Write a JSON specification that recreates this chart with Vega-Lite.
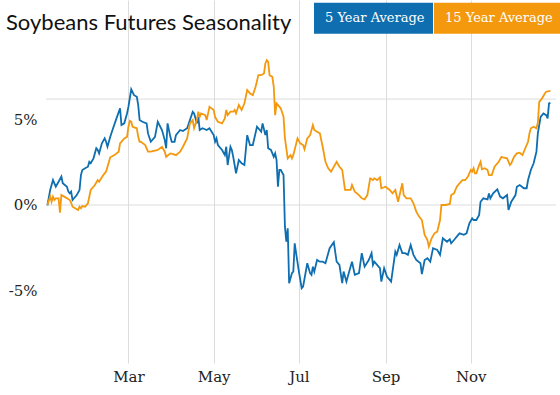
{
"$schema":"https://vega.github.io/schema/vega-lite/v6.json",
"width":510,"height":363,
"autosize":{"type":"none"},
"padding":{"left":46,"top":0,"right":4,"bottom":32},
"background":"white",
"title":{"text":"Soybeans Futures Seasonality","anchor":"start","frame":"group","font":"Lato","fontSize":22,"fontWeight":"normal","color":"#111","baseline":"alphabetic","offset":-97,"dx":-40},
"config":{"view":{"stroke":null},"axis":{"domain":false,"ticks":false,"labelFont":"DejaVu Serif","labelFontSize":15,"labelColor":"#222","gridColor":"#dcdcdc","gridWidth":1}},
"datasets":{
"series":[
{"date":"2023-01-02","s":"5 Year Average","pct":-0.02},{"date":"2023-01-04","s":"5 Year Average","pct":0.88},{"date":"2023-01-06","s":"5 Year Average","pct":1.46},{"date":"2023-01-08","s":"5 Year Average","pct":1.07},{"date":"2023-01-10","s":"5 Year Average","pct":1.36},{"date":"2023-01-12","s":"5 Year Average","pct":1.66},{"date":"2023-01-13","s":"5 Year Average","pct":1.27},{"date":"2023-01-16","s":"5 Year Average","pct":1.07},{"date":"2023-01-17","s":"5 Year Average","pct":0.78},{"date":"2023-01-18","s":"5 Year Average","pct":0.68},{"date":"2023-01-19","s":"5 Year Average","pct":0.78},{"date":"2023-01-20","s":"5 Year Average","pct":0.29},{"date":"2023-01-23","s":"5 Year Average","pct":0.58},{"date":"2023-01-25","s":"5 Year Average","pct":0.88},{"date":"2023-01-26","s":"5 Year Average","pct":1.75},{"date":"2023-01-27","s":"5 Year Average","pct":2.05},{"date":"2023-01-29","s":"5 Year Average","pct":2.15},{"date":"2023-01-31","s":"5 Year Average","pct":2.24},{"date":"2023-02-01","s":"5 Year Average","pct":2.53},{"date":"2023-02-02","s":"5 Year Average","pct":2.44},{"date":"2023-02-04","s":"5 Year Average","pct":2.73},{"date":"2023-02-06","s":"5 Year Average","pct":3.32},{"date":"2023-02-07","s":"5 Year Average","pct":3.22},{"date":"2023-02-08","s":"5 Year Average","pct":3.02},{"date":"2023-02-10","s":"5 Year Average","pct":3.61},{"date":"2023-02-12","s":"5 Year Average","pct":3.90},{"date":"2023-02-13","s":"5 Year Average","pct":3.70},{"date":"2023-02-14","s":"5 Year Average","pct":3.41},{"date":"2023-02-16","s":"5 Year Average","pct":3.99},{"date":"2023-02-18","s":"5 Year Average","pct":4.49},{"date":"2023-02-20","s":"5 Year Average","pct":4.97},{"date":"2023-02-23","s":"5 Year Average","pct":5.66},{"date":"2023-02-24","s":"5 Year Average","pct":4.68},{"date":"2023-02-26","s":"5 Year Average","pct":4.78},{"date":"2023-02-28","s":"5 Year Average","pct":5.36},{"date":"2023-03-01","s":"5 Year Average","pct":5.75},{"date":"2023-03-03","s":"5 Year Average","pct":6.77},{"date":"2023-03-05","s":"5 Year Average","pct":6.43},{"date":"2023-03-07","s":"5 Year Average","pct":6.33},{"date":"2023-03-08","s":"5 Year Average","pct":5.85},{"date":"2023-03-09","s":"5 Year Average","pct":4.97},{"date":"2023-03-11","s":"5 Year Average","pct":4.87},{"date":"2023-03-14","s":"5 Year Average","pct":4.78},{"date":"2023-03-15","s":"5 Year Average","pct":4.19},{"date":"2023-03-17","s":"5 Year Average","pct":3.70},{"date":"2023-03-20","s":"5 Year Average","pct":3.99},{"date":"2023-03-22","s":"5 Year Average","pct":4.87},{"date":"2023-03-25","s":"5 Year Average","pct":4.39},{"date":"2023-03-27","s":"5 Year Average","pct":3.80},{"date":"2023-03-28","s":"5 Year Average","pct":3.32},{"date":"2023-03-29","s":"5 Year Average","pct":4.78},{"date":"2023-03-31","s":"5 Year Average","pct":3.99},{"date":"2023-04-01","s":"5 Year Average","pct":3.70},{"date":"2023-04-03","s":"5 Year Average","pct":3.70},{"date":"2023-04-04","s":"5 Year Average","pct":4.09},{"date":"2023-04-07","s":"5 Year Average","pct":4.39},{"date":"2023-04-09","s":"5 Year Average","pct":4.33},{"date":"2023-04-12","s":"5 Year Average","pct":4.49},{"date":"2023-04-14","s":"5 Year Average","pct":4.97},{"date":"2023-04-16","s":"5 Year Average","pct":5.46},{"date":"2023-04-17","s":"5 Year Average","pct":5.36},{"date":"2023-04-19","s":"5 Year Average","pct":4.78},{"date":"2023-04-20","s":"5 Year Average","pct":5.16},{"date":"2023-04-21","s":"5 Year Average","pct":4.39},{"date":"2023-04-23","s":"5 Year Average","pct":4.49},{"date":"2023-04-26","s":"5 Year Average","pct":4.39},{"date":"2023-04-28","s":"5 Year Average","pct":4.49},{"date":"2023-05-01","s":"5 Year Average","pct":4.09},{"date":"2023-05-02","s":"5 Year Average","pct":3.70},{"date":"2023-05-03","s":"5 Year Average","pct":3.90},{"date":"2023-05-04","s":"5 Year Average","pct":3.51},{"date":"2023-05-07","s":"5 Year Average","pct":3.22},{"date":"2023-05-09","s":"5 Year Average","pct":2.92},{"date":"2023-05-10","s":"5 Year Average","pct":3.41},{"date":"2023-05-11","s":"5 Year Average","pct":2.34},{"date":"2023-05-13","s":"5 Year Average","pct":3.41},{"date":"2023-05-14","s":"5 Year Average","pct":3.22},{"date":"2023-05-15","s":"5 Year Average","pct":2.82},{"date":"2023-05-16","s":"5 Year Average","pct":2.34},{"date":"2023-05-17","s":"5 Year Average","pct":1.85},{"date":"2023-05-19","s":"5 Year Average","pct":2.63},{"date":"2023-05-21","s":"5 Year Average","pct":2.44},{"date":"2023-05-23","s":"5 Year Average","pct":2.34},{"date":"2023-05-25","s":"5 Year Average","pct":4.09},{"date":"2023-05-27","s":"5 Year Average","pct":3.51},{"date":"2023-05-29","s":"5 Year Average","pct":3.51},{"date":"2023-06-01","s":"5 Year Average","pct":4.58},{"date":"2023-06-03","s":"5 Year Average","pct":4.39},{"date":"2023-06-04","s":"5 Year Average","pct":4.29},{"date":"2023-06-05","s":"5 Year Average","pct":4.78},{"date":"2023-06-07","s":"5 Year Average","pct":4.09},{"date":"2023-06-08","s":"5 Year Average","pct":4.39},{"date":"2023-06-09","s":"5 Year Average","pct":3.32},{"date":"2023-06-11","s":"5 Year Average","pct":3.22},{"date":"2023-06-13","s":"5 Year Average","pct":2.82},{"date":"2023-06-14","s":"5 Year Average","pct":3.02},{"date":"2023-06-15","s":"5 Year Average","pct":2.63},{"date":"2023-06-16","s":"5 Year Average","pct":1.07},{"date":"2023-06-17","s":"5 Year Average","pct":2.05},{"date":"2023-06-18","s":"5 Year Average","pct":2.05},{"date":"2023-06-20","s":"5 Year Average","pct":1.75},{"date":"2023-06-21","s":"5 Year Average","pct":-1.27},{"date":"2023-06-22","s":"5 Year Average","pct":-2.15},{"date":"2023-06-23","s":"5 Year Average","pct":-1.36},{"date":"2023-06-24","s":"5 Year Average","pct":-4.58},{"date":"2023-06-26","s":"5 Year Average","pct":-3.99},{"date":"2023-06-27","s":"5 Year Average","pct":-3.90},{"date":"2023-06-28","s":"5 Year Average","pct":-2.24},{"date":"2023-06-29","s":"5 Year Average","pct":-2.82},{"date":"2023-07-01","s":"5 Year Average","pct":-3.90},{"date":"2023-07-03","s":"5 Year Average","pct":-4.87},{"date":"2023-07-04","s":"5 Year Average","pct":-4.78},{"date":"2023-07-07","s":"5 Year Average","pct":-3.41},{"date":"2023-07-09","s":"5 Year Average","pct":-3.99},{"date":"2023-07-10","s":"5 Year Average","pct":-4.09},{"date":"2023-07-11","s":"5 Year Average","pct":-3.61},{"date":"2023-07-12","s":"5 Year Average","pct":-3.90},{"date":"2023-07-14","s":"5 Year Average","pct":-3.22},{"date":"2023-07-16","s":"5 Year Average","pct":-3.32},{"date":"2023-07-18","s":"5 Year Average","pct":-3.32},{"date":"2023-07-20","s":"5 Year Average","pct":-3.41},{"date":"2023-07-23","s":"5 Year Average","pct":-2.53},{"date":"2023-07-26","s":"5 Year Average","pct":-2.18},{"date":"2023-07-28","s":"5 Year Average","pct":-3.32},{"date":"2023-07-30","s":"5 Year Average","pct":-3.51},{"date":"2023-08-01","s":"5 Year Average","pct":-4.58},{"date":"2023-08-02","s":"5 Year Average","pct":-3.90},{"date":"2023-08-04","s":"5 Year Average","pct":-4.49},{"date":"2023-08-05","s":"5 Year Average","pct":-4.19},{"date":"2023-08-08","s":"5 Year Average","pct":-3.32},{"date":"2023-08-10","s":"5 Year Average","pct":-4.09},{"date":"2023-08-13","s":"5 Year Average","pct":-3.99},{"date":"2023-08-15","s":"5 Year Average","pct":-2.82},{"date":"2023-08-17","s":"5 Year Average","pct":-3.61},{"date":"2023-08-20","s":"5 Year Average","pct":-3.22},{"date":"2023-08-22","s":"5 Year Average","pct":-2.82},{"date":"2023-08-23","s":"5 Year Average","pct":-3.51},{"date":"2023-08-24","s":"5 Year Average","pct":-3.32},{"date":"2023-08-27","s":"5 Year Average","pct":-3.61},{"date":"2023-08-28","s":"5 Year Average","pct":-3.70},{"date":"2023-08-29","s":"5 Year Average","pct":-4.49},{"date":"2023-08-31","s":"5 Year Average","pct":-3.70},{"date":"2023-09-02","s":"5 Year Average","pct":-4.19},{"date":"2023-09-05","s":"5 Year Average","pct":-4.49},{"date":"2023-09-08","s":"5 Year Average","pct":-2.73},{"date":"2023-09-09","s":"5 Year Average","pct":-2.92},{"date":"2023-09-11","s":"5 Year Average","pct":-2.34},{"date":"2023-09-13","s":"5 Year Average","pct":-2.82},{"date":"2023-09-15","s":"5 Year Average","pct":-2.82},{"date":"2023-09-17","s":"5 Year Average","pct":-2.92},{"date":"2023-09-19","s":"5 Year Average","pct":-2.34},{"date":"2023-09-21","s":"5 Year Average","pct":-2.92},{"date":"2023-09-23","s":"5 Year Average","pct":-3.22},{"date":"2023-09-26","s":"5 Year Average","pct":-3.41},{"date":"2023-09-27","s":"5 Year Average","pct":-4.05},{"date":"2023-09-29","s":"5 Year Average","pct":-3.22},{"date":"2023-10-01","s":"5 Year Average","pct":-3.12},{"date":"2023-10-03","s":"5 Year Average","pct":-3.32},{"date":"2023-10-05","s":"5 Year Average","pct":-2.53},{"date":"2023-10-08","s":"5 Year Average","pct":-2.63},{"date":"2023-10-10","s":"5 Year Average","pct":-2.92},{"date":"2023-10-12","s":"5 Year Average","pct":-1.95},{"date":"2023-10-15","s":"5 Year Average","pct":-2.15},{"date":"2023-10-17","s":"5 Year Average","pct":-2.01},{"date":"2023-10-18","s":"5 Year Average","pct":-2.24},{"date":"2023-10-20","s":"5 Year Average","pct":-2.05},{"date":"2023-10-23","s":"5 Year Average","pct":-1.75},{"date":"2023-10-24","s":"5 Year Average","pct":-1.66},{"date":"2023-10-27","s":"5 Year Average","pct":-1.75},{"date":"2023-10-29","s":"5 Year Average","pct":-1.66},{"date":"2023-10-31","s":"5 Year Average","pct":-1.07},{"date":"2023-11-02","s":"5 Year Average","pct":-0.78},{"date":"2023-11-03","s":"5 Year Average","pct":-0.88},{"date":"2023-11-05","s":"5 Year Average","pct":-0.88},{"date":"2023-11-07","s":"5 Year Average","pct":-0.58},{"date":"2023-11-08","s":"5 Year Average","pct":0.19},{"date":"2023-11-10","s":"5 Year Average","pct":0.39},{"date":"2023-11-13","s":"5 Year Average","pct":0.33},{"date":"2023-11-14","s":"5 Year Average","pct":0.68},{"date":"2023-11-15","s":"5 Year Average","pct":0.39},{"date":"2023-11-17","s":"5 Year Average","pct":0.68},{"date":"2023-11-20","s":"5 Year Average","pct":0.92},{"date":"2023-11-22","s":"5 Year Average","pct":0.49},{"date":"2023-11-24","s":"5 Year Average","pct":0.39},{"date":"2023-11-27","s":"5 Year Average","pct":0.58},{"date":"2023-11-28","s":"5 Year Average","pct":-0.29},{"date":"2023-11-30","s":"5 Year Average","pct":0.19},{"date":"2023-12-03","s":"5 Year Average","pct":0.58},{"date":"2023-12-04","s":"5 Year Average","pct":1.07},{"date":"2023-12-06","s":"5 Year Average","pct":1.17},{"date":"2023-12-09","s":"5 Year Average","pct":0.98},{"date":"2023-12-11","s":"5 Year Average","pct":0.98},{"date":"2023-12-12","s":"5 Year Average","pct":1.46},{"date":"2023-12-14","s":"5 Year Average","pct":2.05},{"date":"2023-12-16","s":"5 Year Average","pct":2.44},{"date":"2023-12-18","s":"5 Year Average","pct":3.12},{"date":"2023-12-19","s":"5 Year Average","pct":4.19},{"date":"2023-12-21","s":"5 Year Average","pct":5.16},{"date":"2023-12-23","s":"5 Year Average","pct":5.36},{"date":"2023-12-25","s":"5 Year Average","pct":5.26},{"date":"2023-12-26","s":"5 Year Average","pct":5.07},{"date":"2023-12-27","s":"5 Year Average","pct":5.95},{"date":"2023-12-28","s":"5 Year Average","pct":5.98},
{"date":"2023-01-02","s":"15 Year Average","pct":0},{"date":"2023-01-04","s":"15 Year Average","pct":0.49},{"date":"2023-01-05","s":"15 Year Average","pct":0.19},{"date":"2023-01-06","s":"15 Year Average","pct":0.49},{"date":"2023-01-07","s":"15 Year Average","pct":0.29},{"date":"2023-01-08","s":"15 Year Average","pct":0.39},{"date":"2023-01-10","s":"15 Year Average","pct":0.39},{"date":"2023-01-11","s":"15 Year Average","pct":-0.45},{"date":"2023-01-12","s":"15 Year Average","pct":0.58},{"date":"2023-01-14","s":"15 Year Average","pct":0.49},{"date":"2023-01-16","s":"15 Year Average","pct":0.39},{"date":"2023-01-18","s":"15 Year Average","pct":0.29},{"date":"2023-01-19","s":"15 Year Average","pct":0.13},{"date":"2023-01-20","s":"15 Year Average","pct":-0.10},{"date":"2023-01-23","s":"15 Year Average","pct":-0.25},{"date":"2023-01-24","s":"15 Year Average","pct":-0.29},{"date":"2023-01-25","s":"15 Year Average","pct":-0.10},{"date":"2023-01-26","s":"15 Year Average","pct":-0.19},{"date":"2023-01-27","s":"15 Year Average","pct":-0.06},{"date":"2023-01-29","s":"15 Year Average","pct":-0.10},{"date":"2023-01-31","s":"15 Year Average","pct":0.10},{"date":"2023-02-02","s":"15 Year Average","pct":0.88},{"date":"2023-02-05","s":"15 Year Average","pct":1.17},{"date":"2023-02-07","s":"15 Year Average","pct":1.46},{"date":"2023-02-08","s":"15 Year Average","pct":1.36},{"date":"2023-02-11","s":"15 Year Average","pct":1.75},{"date":"2023-02-13","s":"15 Year Average","pct":1.95},{"date":"2023-02-14","s":"15 Year Average","pct":2.24},{"date":"2023-02-16","s":"15 Year Average","pct":2.79},{"date":"2023-02-19","s":"15 Year Average","pct":2.92},{"date":"2023-02-22","s":"15 Year Average","pct":3.12},{"date":"2023-02-23","s":"15 Year Average","pct":3.61},{"date":"2023-02-26","s":"15 Year Average","pct":3.90},{"date":"2023-02-28","s":"15 Year Average","pct":3.99},{"date":"2023-03-01","s":"15 Year Average","pct":4.58},{"date":"2023-03-02","s":"15 Year Average","pct":4.93},{"date":"2023-03-03","s":"15 Year Average","pct":4.87},{"date":"2023-03-04","s":"15 Year Average","pct":4.58},{"date":"2023-03-07","s":"15 Year Average","pct":4.49},{"date":"2023-03-08","s":"15 Year Average","pct":3.99},{"date":"2023-03-09","s":"15 Year Average","pct":3.70},{"date":"2023-03-10","s":"15 Year Average","pct":3.70},{"date":"2023-03-13","s":"15 Year Average","pct":3.51},{"date":"2023-03-15","s":"15 Year Average","pct":3.12},{"date":"2023-03-17","s":"15 Year Average","pct":3.12},{"date":"2023-03-20","s":"15 Year Average","pct":3.18},{"date":"2023-03-22","s":"15 Year Average","pct":3.22},{"date":"2023-03-25","s":"15 Year Average","pct":3.41},{"date":"2023-03-27","s":"15 Year Average","pct":3.12},{"date":"2023-03-28","s":"15 Year Average","pct":2.82},{"date":"2023-03-31","s":"15 Year Average","pct":3.02},{"date":"2023-04-02","s":"15 Year Average","pct":2.98},{"date":"2023-04-04","s":"15 Year Average","pct":2.92},{"date":"2023-04-07","s":"15 Year Average","pct":3.12},{"date":"2023-04-09","s":"15 Year Average","pct":3.41},{"date":"2023-04-12","s":"15 Year Average","pct":3.90},{"date":"2023-04-14","s":"15 Year Average","pct":4.78},{"date":"2023-04-16","s":"15 Year Average","pct":4.97},{"date":"2023-04-17","s":"15 Year Average","pct":4.50},{"date":"2023-04-19","s":"15 Year Average","pct":4.97},{"date":"2023-04-20","s":"15 Year Average","pct":5.46},{"date":"2023-04-21","s":"15 Year Average","pct":5.16},{"date":"2023-04-22","s":"15 Year Average","pct":5.36},{"date":"2023-04-25","s":"15 Year Average","pct":5.26},{"date":"2023-04-26","s":"15 Year Average","pct":4.97},{"date":"2023-04-28","s":"15 Year Average","pct":5.75},{"date":"2023-05-01","s":"15 Year Average","pct":5.56},{"date":"2023-05-02","s":"15 Year Average","pct":5.16},{"date":"2023-05-04","s":"15 Year Average","pct":4.87},{"date":"2023-05-07","s":"15 Year Average","pct":4.78},{"date":"2023-05-09","s":"15 Year Average","pct":5.07},{"date":"2023-05-10","s":"15 Year Average","pct":5.56},{"date":"2023-05-11","s":"15 Year Average","pct":5.26},{"date":"2023-05-13","s":"15 Year Average","pct":5.46},{"date":"2023-05-15","s":"15 Year Average","pct":5.46},{"date":"2023-05-16","s":"15 Year Average","pct":5.56},{"date":"2023-05-17","s":"15 Year Average","pct":5.36},{"date":"2023-05-19","s":"15 Year Average","pct":5.85},{"date":"2023-05-21","s":"15 Year Average","pct":5.56},{"date":"2023-05-23","s":"15 Year Average","pct":5.95},{"date":"2023-05-25","s":"15 Year Average","pct":6.73},{"date":"2023-05-27","s":"15 Year Average","pct":6.53},{"date":"2023-05-29","s":"15 Year Average","pct":6.43},{"date":"2023-05-31","s":"15 Year Average","pct":6.92},{"date":"2023-06-02","s":"15 Year Average","pct":7.60},{"date":"2023-06-04","s":"15 Year Average","pct":7.60},{"date":"2023-06-06","s":"15 Year Average","pct":7.70},{"date":"2023-06-07","s":"15 Year Average","pct":8.29},{"date":"2023-06-08","s":"15 Year Average","pct":8.48},{"date":"2023-06-09","s":"15 Year Average","pct":8.38},{"date":"2023-06-10","s":"15 Year Average","pct":7.60},{"date":"2023-06-12","s":"15 Year Average","pct":7.50},{"date":"2023-06-13","s":"15 Year Average","pct":6.92},{"date":"2023-06-14","s":"15 Year Average","pct":5.26},{"date":"2023-06-15","s":"15 Year Average","pct":5.95},{"date":"2023-06-18","s":"15 Year Average","pct":5.66},{"date":"2023-06-20","s":"15 Year Average","pct":5.16},{"date":"2023-06-21","s":"15 Year Average","pct":3.90},{"date":"2023-06-23","s":"15 Year Average","pct":2.73},{"date":"2023-06-25","s":"15 Year Average","pct":2.92},{"date":"2023-06-26","s":"15 Year Average","pct":2.73},{"date":"2023-06-27","s":"15 Year Average","pct":2.92},{"date":"2023-06-30","s":"15 Year Average","pct":3.90},{"date":"2023-07-02","s":"15 Year Average","pct":3.61},{"date":"2023-07-04","s":"15 Year Average","pct":3.51},{"date":"2023-07-05","s":"15 Year Average","pct":3.26},{"date":"2023-07-07","s":"15 Year Average","pct":3.90},{"date":"2023-07-09","s":"15 Year Average","pct":4.09},{"date":"2023-07-11","s":"15 Year Average","pct":4.68},{"date":"2023-07-12","s":"15 Year Average","pct":4.39},{"date":"2023-07-14","s":"15 Year Average","pct":4.29},{"date":"2023-07-16","s":"15 Year Average","pct":4.19},{"date":"2023-07-18","s":"15 Year Average","pct":3.41},{"date":"2023-07-20","s":"15 Year Average","pct":2.53},{"date":"2023-07-22","s":"15 Year Average","pct":2.15},{"date":"2023-07-24","s":"15 Year Average","pct":1.95},{"date":"2023-07-28","s":"15 Year Average","pct":2.53},{"date":"2023-07-30","s":"15 Year Average","pct":2.24},{"date":"2023-08-01","s":"15 Year Average","pct":2.05},{"date":"2023-08-03","s":"15 Year Average","pct":0.88},{"date":"2023-08-07","s":"15 Year Average","pct":0.88},{"date":"2023-08-08","s":"15 Year Average","pct":1.17},{"date":"2023-08-10","s":"15 Year Average","pct":0.78},{"date":"2023-08-13","s":"15 Year Average","pct":0.58},{"date":"2023-08-15","s":"15 Year Average","pct":0.39},{"date":"2023-08-17","s":"15 Year Average","pct":0.33},{"date":"2023-08-19","s":"15 Year Average","pct":0.58},{"date":"2023-08-21","s":"15 Year Average","pct":1.56},{"date":"2023-08-23","s":"15 Year Average","pct":1.46},{"date":"2023-08-24","s":"15 Year Average","pct":1.56},{"date":"2023-08-26","s":"15 Year Average","pct":1.46},{"date":"2023-08-28","s":"15 Year Average","pct":1.62},{"date":"2023-08-29","s":"15 Year Average","pct":0.98},{"date":"2023-09-01","s":"15 Year Average","pct":1.07},{"date":"2023-09-04","s":"15 Year Average","pct":0.88},{"date":"2023-09-06","s":"15 Year Average","pct":0.68},{"date":"2023-09-08","s":"15 Year Average","pct":0.88},{"date":"2023-09-10","s":"15 Year Average","pct":0.19},{"date":"2023-09-13","s":"15 Year Average","pct":1.27},{"date":"2023-09-14","s":"15 Year Average","pct":0.58},{"date":"2023-09-16","s":"15 Year Average","pct":0.39},{"date":"2023-09-19","s":"15 Year Average","pct":0.39},{"date":"2023-09-21","s":"15 Year Average","pct":0.10},{"date":"2023-09-23","s":"15 Year Average","pct":-0.39},{"date":"2023-09-25","s":"15 Year Average","pct":-0.68},{"date":"2023-09-27","s":"15 Year Average","pct":-0.88},{"date":"2023-09-29","s":"15 Year Average","pct":-1.75},{"date":"2023-10-01","s":"15 Year Average","pct":-2.05},{"date":"2023-10-02","s":"15 Year Average","pct":-2.44},{"date":"2023-10-04","s":"15 Year Average","pct":-1.95},{"date":"2023-10-06","s":"15 Year Average","pct":-1.66},{"date":"2023-10-08","s":"15 Year Average","pct":-1.56},{"date":"2023-10-10","s":"15 Year Average","pct":-0.88},{"date":"2023-10-11","s":"15 Year Average","pct":0},{"date":"2023-10-14","s":"15 Year Average","pct":0},{"date":"2023-10-17","s":"15 Year Average","pct":0.06},{"date":"2023-10-18","s":"15 Year Average","pct":0.58},{"date":"2023-10-20","s":"15 Year Average","pct":0.68},{"date":"2023-10-22","s":"15 Year Average","pct":1.07},{"date":"2023-10-24","s":"15 Year Average","pct":1.27},{"date":"2023-10-26","s":"15 Year Average","pct":1.46},{"date":"2023-10-28","s":"15 Year Average","pct":1.46},{"date":"2023-10-30","s":"15 Year Average","pct":1.66},{"date":"2023-11-01","s":"15 Year Average","pct":2.05},{"date":"2023-11-02","s":"15 Year Average","pct":1.95},{"date":"2023-11-03","s":"15 Year Average","pct":2.15},{"date":"2023-11-04","s":"15 Year Average","pct":1.85},{"date":"2023-11-05","s":"15 Year Average","pct":1.85},{"date":"2023-11-07","s":"15 Year Average","pct":2.34},{"date":"2023-11-08","s":"15 Year Average","pct":2.53},{"date":"2023-11-09","s":"15 Year Average","pct":2.09},{"date":"2023-11-11","s":"15 Year Average","pct":2.15},{"date":"2023-11-13","s":"15 Year Average","pct":2.05},{"date":"2023-11-14","s":"15 Year Average","pct":1.75},{"date":"2023-11-16","s":"15 Year Average","pct":1.75},{"date":"2023-11-18","s":"15 Year Average","pct":2.24},{"date":"2023-11-21","s":"15 Year Average","pct":2.53},{"date":"2023-11-23","s":"15 Year Average","pct":2.82},{"date":"2023-11-24","s":"15 Year Average","pct":2.79},{"date":"2023-11-27","s":"15 Year Average","pct":2.73},{"date":"2023-11-29","s":"15 Year Average","pct":2.34},{"date":"2023-11-30","s":"15 Year Average","pct":2.44},{"date":"2023-12-02","s":"15 Year Average","pct":2.82},{"date":"2023-12-04","s":"15 Year Average","pct":3.02},{"date":"2023-12-06","s":"15 Year Average","pct":3.06},{"date":"2023-12-08","s":"15 Year Average","pct":2.92},{"date":"2023-12-10","s":"15 Year Average","pct":3.32},{"date":"2023-12-12","s":"15 Year Average","pct":3.70},{"date":"2023-12-13","s":"15 Year Average","pct":4.19},{"date":"2023-12-14","s":"15 Year Average","pct":4.49},{"date":"2023-12-16","s":"15 Year Average","pct":4.58},{"date":"2023-12-18","s":"15 Year Average","pct":4.49},{"date":"2023-12-19","s":"15 Year Average","pct":4.81},{"date":"2023-12-20","s":"15 Year Average","pct":6.04},{"date":"2023-12-22","s":"15 Year Average","pct":6.24},{"date":"2023-12-24","s":"15 Year Average","pct":6.53},{"date":"2023-12-25","s":"15 Year Average","pct":6.63},{"date":"2023-12-28","s":"15 Year Average","pct":6.68}
],
"grid":[{"g":0},{"g":6.2}]
},
"layer":[
{"data":{"name":"grid"},"mark":{"type":"rule","color":"#dcdcdc","strokeWidth":1},
 "encoding":{"y":{"field":"g","type":"quantitative","scale":{"domain":[-9.25,12],"nice":false,"zero":false},"axis":{"values":[-5,0,5],"grid":false,"labelExpr":"datum.value + '%'","labelPadding":9,"title":null}}}},
{"data":{"name":"series"},"mark":{"type":"line","strokeWidth":1.8},
 "encoding":{
  "x":{"field":"date","type":"temporal","scale":{"domain":[{"year":2023,"month":1,"date":1},{"year":2024,"month":1,"date":1}]},
   "axis":{"values":[{"year":2023,"month":3,"date":1},{"year":2023,"month":5,"date":1},{"year":2023,"month":7,"date":1},{"year":2023,"month":9,"date":1},{"year":2023,"month":11,"date":1}],"format":"%b","grid":true,"labelPadding":6,"title":null}},
  "y":{"field":"pct","type":"quantitative","scale":{"domain":[-9.25,12],"nice":false,"zero":false},"axis":{"values":[-5,0,5],"grid":false,"labelExpr":"datum.value + '%'","labelPadding":9,"title":null}},
  "color":{"field":"s","type":"nominal","scale":{"domain":["5 Year Average","15 Year Average"],"range":["#0e6eb0","#f4990d"]},
   "legend":{"title":null,"orient":"none","legendX":268,"legendY":-45,"direction":"horizontal","padding":0,"columnPadding":0,"rowPadding":0,"symbolSize":15876,"symbolType":"M-1,-0.246H1V0.246H-1Z","symbolStrokeWidth":0,"labelFont":"DejaVu Serif","labelFontSize":13,"labelColor":"white","labelOffset":-115,"labelLimit":300,
    "encode":{"symbols":{"update":{"fill":{"scale":"color","field":"value"},"fillOpacity":{"value":1},"opacity":{"value":1},"shape":{"signal":"datum.label == '5 Year Average' ? 'M-1,-0.246H0.889V0.246H-1Z' : 'M-1,-0.246H1V0.246H-1Z'"}}}}}}
 }}
]
}
